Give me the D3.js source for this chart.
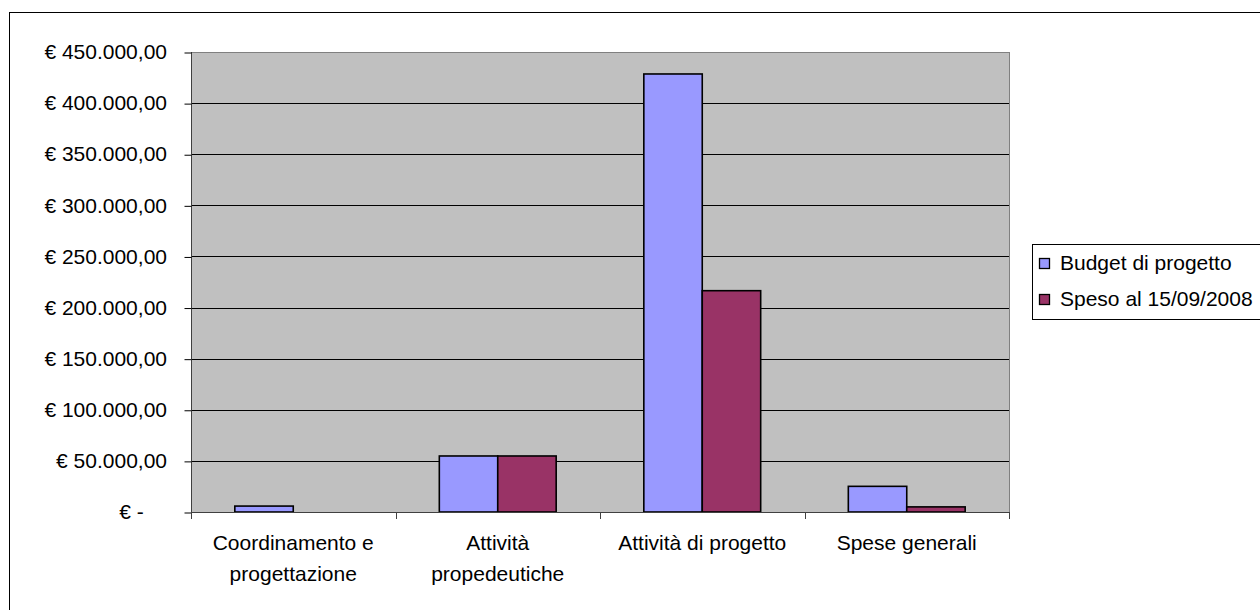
<!DOCTYPE html>
<html>
<head>
<meta charset="utf-8">
<script src="https://cdn.jsdelivr.net/npm/d3@7"></script>
<style>
  html, body { margin: 0; padding: 0; background: #fff; }
  svg { display: block; }
  text { font-family: "Liberation Sans", Arial, sans-serif; fill: #000; }
</style>
</head>
<body>
<svg id="chart" width="1260" height="610"></svg>
<script>
const categories = [["Coordinamento e", "progettazione"], ["Attività", "propedeutiche"], ["Attività di progetto"], ["Spese generali"]];
const seriesNames = ["Budget di progetto", "Speso al 15/09/2008"];
const budget = [5800, 54800, 428500, 25100];
const speso = [0, 54800, 216500, 5000];
const yTicks = [0, 50000, 100000, 150000, 200000, 250000, 300000, 350000, 400000, 450000];
const yTickLabels = ["€ -    ", "€ 50.000,00", "€ 100.000,00", "€ 150.000,00", "€ 200.000,00", "€ 250.000,00", "€ 300.000,00", "€ 350.000,00", "€ 400.000,00", "€ 450.000,00"];
const colors = ["#9999FF", "#993366"];

const svg = d3.select("#chart");
const plot = { left: 191, right: 1009, top: 52, bottom: 512 };

// outer chart border (extends beyond the picture to the right and bottom)
svg.append("rect").attr("x", 9.5).attr("y", 12.5).attr("width", 1300).attr("height", 700)
  .attr("fill", "#fff").attr("stroke", "#000").attr("stroke-width", 1);

const x0 = d3.scaleBand().domain(d3.range(categories.length)).range([plot.left, plot.right]).padding(0);
const x1 = d3.scaleBand().domain(seriesNames).range([0, x0.bandwidth()]).paddingInner(0).paddingOuter(0.75);
const y = d3.scaleLinear().domain([0, 450000]).range([plot.bottom, plot.top]);

// plot background
svg.append("rect").attr("x", plot.left).attr("y", plot.top)
  .attr("width", plot.right - plot.left).attr("height", plot.bottom - plot.top)
  .attr("fill", "#C0C0C0");

// gridlines
svg.append("g").selectAll("line").data(yTicks.slice(1)).join("line")
  .attr("x1", plot.left).attr("x2", plot.right)
  .attr("y1", d => Math.round(y(d)) + 0.5).attr("y2", d => Math.round(y(d)) + 0.5)
  .attr("stroke", d => d === 450000 ? "#808080" : "#000").attr("stroke-width", 1);

// right border of plot area
svg.append("line").attr("x1", plot.right + 0.5).attr("x2", plot.right + 0.5)
  .attr("y1", plot.top).attr("y2", plot.bottom).attr("stroke", "#808080");

// bars
const data = categories.map((c, i) => [budget[i], speso[i]]);
const groups = svg.append("g").selectAll("g").data(data).join("g")
  .attr("transform", (d, i) => `translate(${x0(i)},0)`);
groups.selectAll("rect").data(d => d.map((v, j) => ({ v, s: seriesNames[j], j }))).join("rect")
  .filter(d => d.v > 0)
  .attr("x", d => x1(d.s))
  .attr("y", d => y(d.v))
  .attr("width", x1.bandwidth())
  .attr("height", d => y(0) - y(d.v))
  .attr("fill", d => colors[d.j])
  .attr("stroke", "#000").attr("stroke-width", 1.6);

// y axis
const yAxis = d3.axisLeft(y).tickValues(yTicks).tickSize(7).tickPadding(17)
  .tickFormat((d, i) => yTickLabels[i]);
const gy = svg.append("g").attr("transform", `translate(${plot.left},0)`).call(yAxis);
gy.select(".domain").attr("stroke", "#404040").attr("d", `M0.5,${plot.top}V${plot.bottom + 0.5}`);
gy.selectAll(".tick line").attr("stroke", "#000").attr("transform", "translate(0.5,0.5)");
gy.selectAll(".tick text").attr("font-size", 21).style("white-space", "pre")
  .attr("font-family", "Liberation Sans, Arial, sans-serif").attr("fill", "#000");

// x axis: boundary ticks
const xb = d3.range(categories.length + 1).map(i => i === categories.length ? plot.right : x0(i));
svg.append("line").attr("x1", plot.left).attr("x2", plot.right)
  .attr("y1", plot.bottom + 0.5).attr("y2", plot.bottom + 0.5).attr("stroke", "#404040");
svg.append("g").selectAll("line").data(xb).join("line")
  .attr("x1", d => Math.round(d) + 0.5).attr("x2", d => Math.round(d) + 0.5)
  .attr("y1", plot.bottom).attr("y2", plot.bottom + 7).attr("stroke", "#404040");

// x labels
const xl = svg.append("g").selectAll("text").data(categories).join("text")
  .attr("x", (d, i) => x0(i) + x0.bandwidth() / 2)
  .attr("y", 550)
  .attr("text-anchor", "middle").attr("font-size", 21);
xl.selectAll("tspan").data(d => d).join("tspan")
  .attr("x", function() { return d3.select(this.parentNode).attr("x"); })
  .attr("dy", (d, i) => i === 0 ? 0 : 31)
  .text(d => d);

// legend
const lg = svg.append("g");
lg.append("rect").attr("x", 1032.5).attr("y", 244.5).attr("width", 300).attr("height", 75)
  .attr("fill", "#fff").attr("stroke", "#000");
seriesNames.forEach((s, i) => {
  lg.append("rect").attr("x", 1039.5).attr("y", 258.5 + i * 36).attr("width", 10).attr("height", 10)
    .attr("fill", colors[i]).attr("stroke", "#000").attr("stroke-width", 1.3);
  lg.append("text").attr("x", 1060).attr("y", 270 + i * 36).attr("font-size", 21).text(s);
});
</script>
</body>
</html>
